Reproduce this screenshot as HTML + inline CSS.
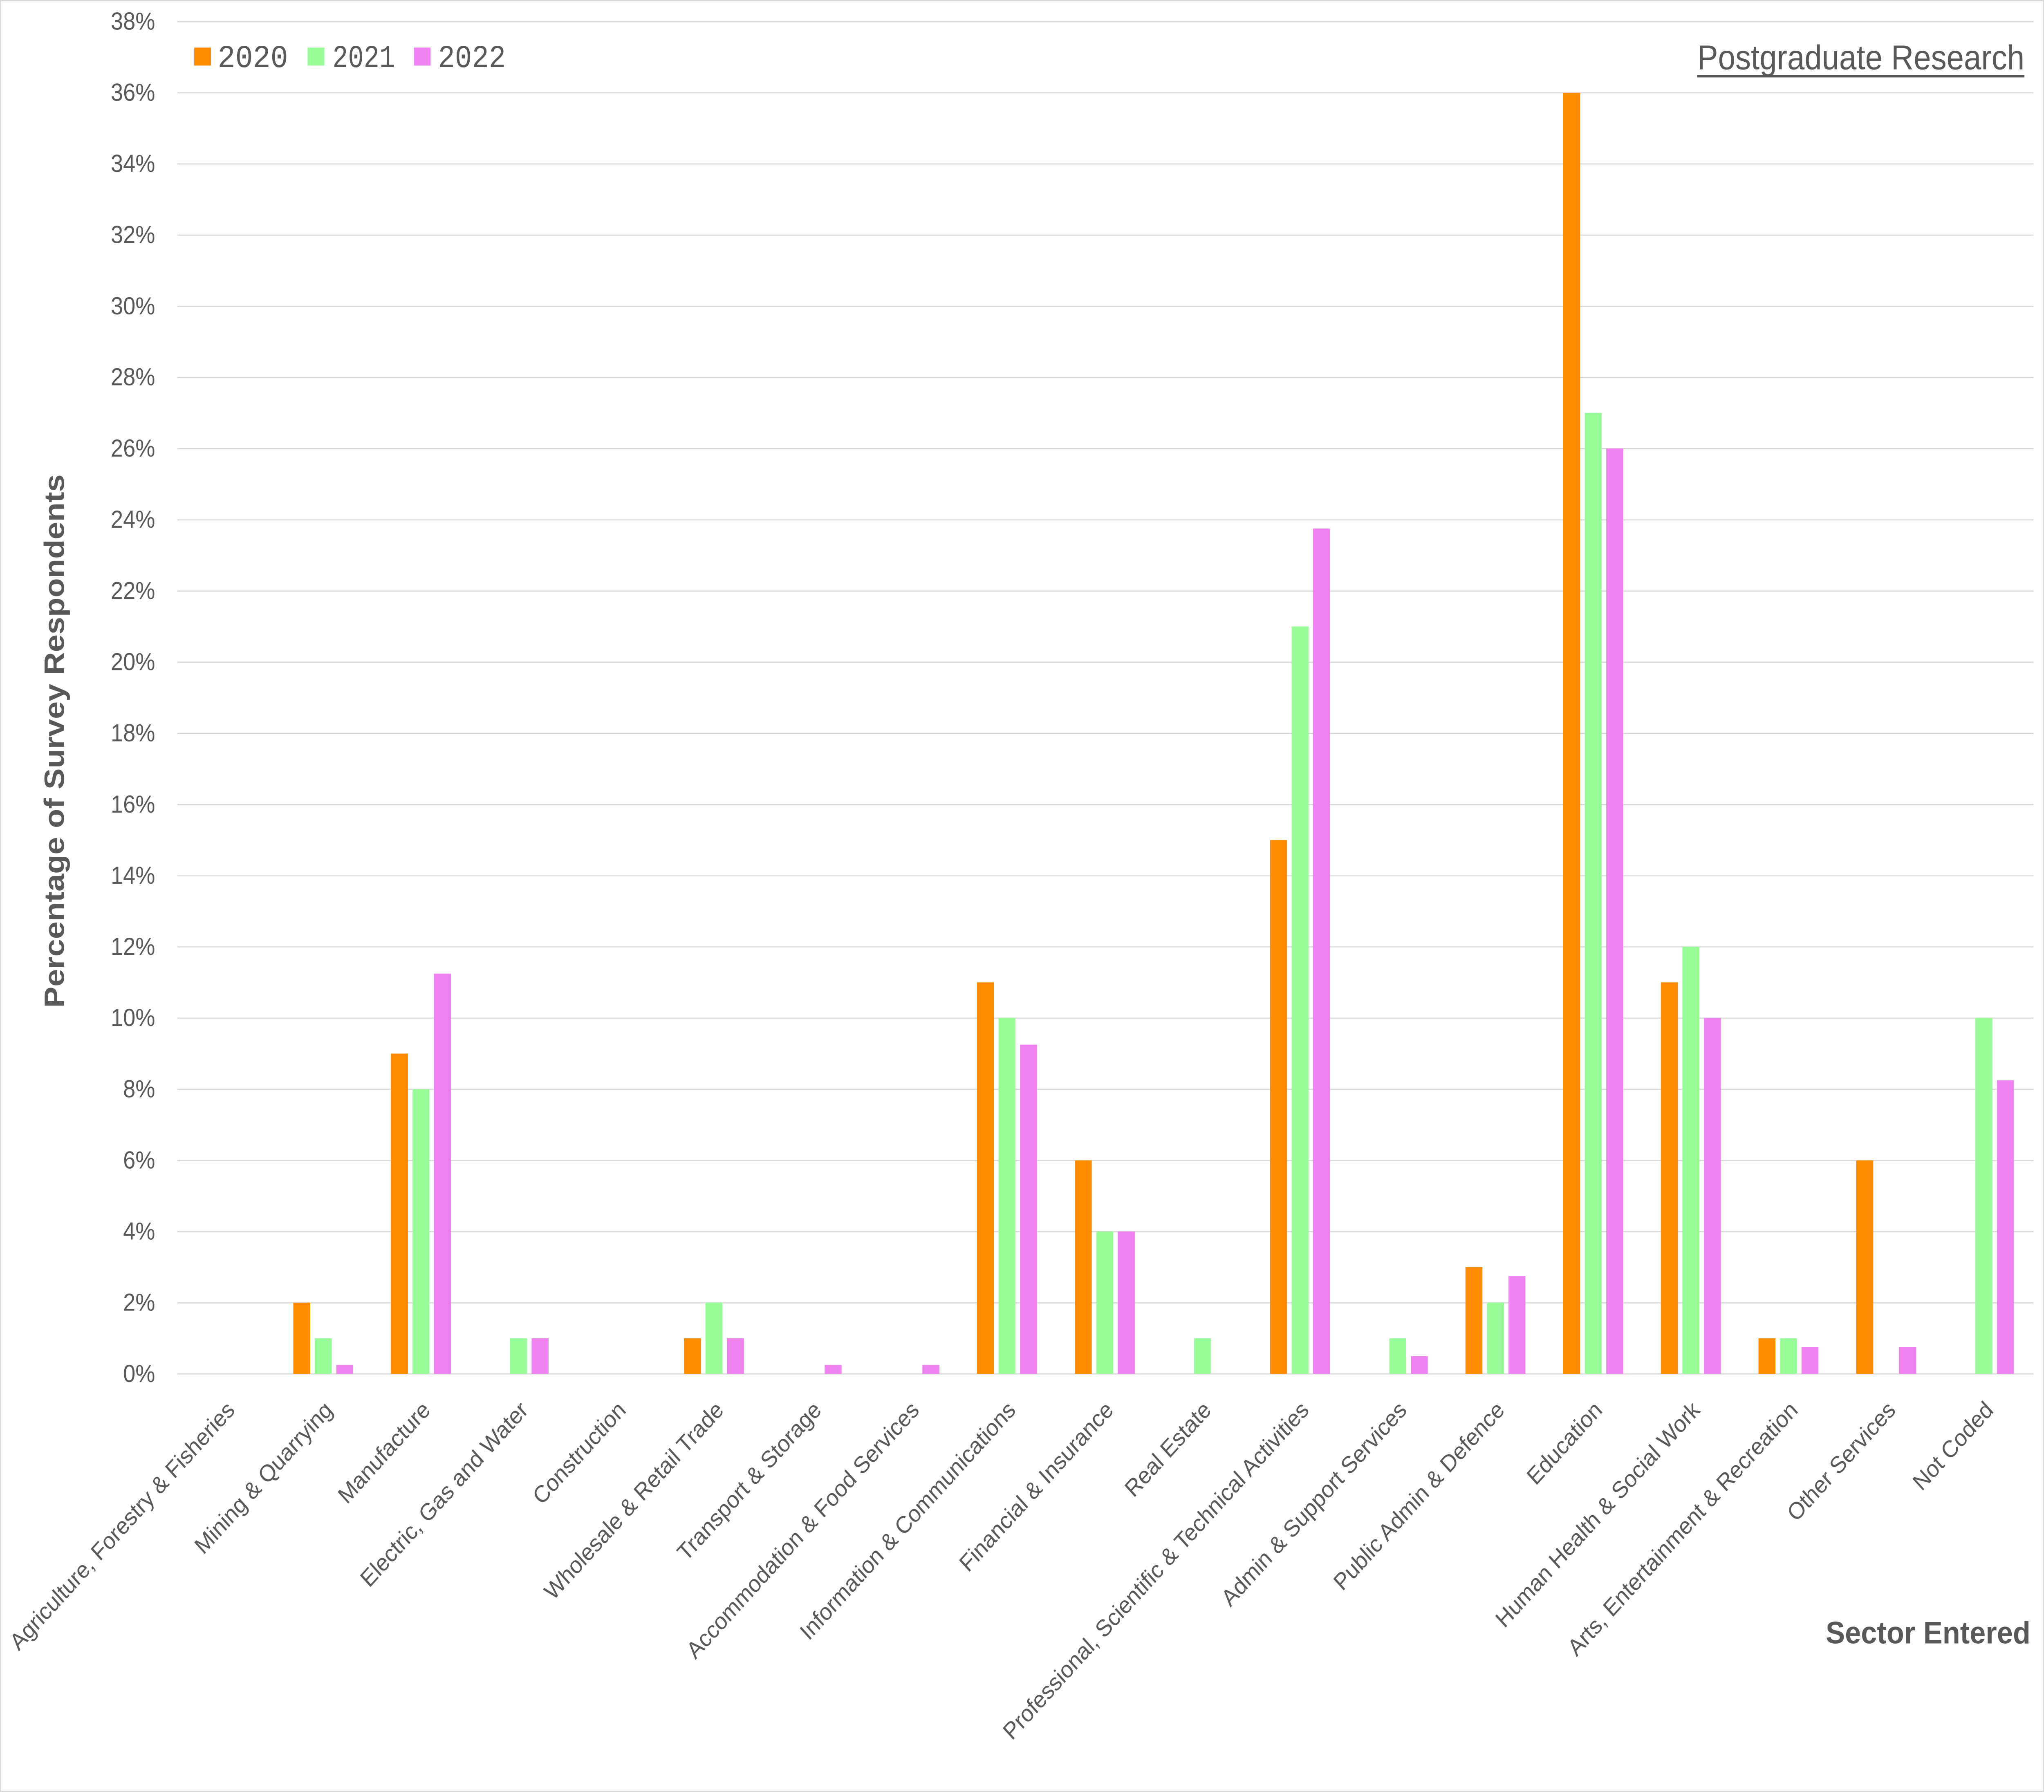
<!DOCTYPE html>
<html><head><meta charset="utf-8"><style>html,body{margin:0;padding:0;background:#fff;width:100%;height:100%;overflow:hidden}svg{display:block;position:absolute;left:0;top:0;width:100vw;height:100vh}</style></head>
<body>
<svg xmlns="http://www.w3.org/2000/svg" viewBox="0 0 1568 1243" preserveAspectRatio="none">
<rect x="0" y="0" width="1568" height="1243" fill="#fff"/>
<rect x="0.4" y="0.4" width="1567.2" height="1242.2" fill="none" stroke="#d9d9d9" stroke-width="0.9"/>
<g font-family="Liberation Sans, sans-serif" font-size="17" fill="#595959" text-anchor="end">
<text x="119" y="20.5">38%</text><text x="119" y="69.9">36%</text><text x="119" y="119.2">34%</text><text x="119" y="168.6">32%</text><text x="119" y="218">30%</text><text x="119" y="267.3">28%</text><text x="119" y="316.7">26%</text><text x="119" y="366.1">24%</text><text x="119" y="415.5">22%</text><text x="119" y="464.8">20%</text><text x="119" y="514.2">18%</text><text x="119" y="563.6">16%</text><text x="119" y="613">14%</text><text x="119" y="662.3">12%</text><text x="119" y="711.7">10%</text><text x="119" y="761.1">8%</text><text x="119" y="810.5">6%</text><text x="119" y="859.8">4%</text><text x="119" y="909.2">2%</text><text x="119" y="958.6">0%</text>
</g>
<g stroke="#d9d9d9" stroke-width="0.8">
<line x1="136" x2="1560" y1="15" y2="15"/><line x1="136" x2="1560" y1="64.4" y2="64.4"/><line x1="136" x2="1560" y1="113.7" y2="113.7"/><line x1="136" x2="1560" y1="163.1" y2="163.1"/><line x1="136" x2="1560" y1="212.5" y2="212.5"/><line x1="136" x2="1560" y1="261.8" y2="261.8"/><line x1="136" x2="1560" y1="311.2" y2="311.2"/><line x1="136" x2="1560" y1="360.6" y2="360.6"/><line x1="136" x2="1560" y1="410" y2="410"/><line x1="136" x2="1560" y1="459.3" y2="459.3"/><line x1="136" x2="1560" y1="508.7" y2="508.7"/><line x1="136" x2="1560" y1="558.1" y2="558.1"/><line x1="136" x2="1560" y1="607.5" y2="607.5"/><line x1="136" x2="1560" y1="656.8" y2="656.8"/><line x1="136" x2="1560" y1="706.2" y2="706.2"/><line x1="136" x2="1560" y1="755.6" y2="755.6"/><line x1="136" x2="1560" y1="805" y2="805"/><line x1="136" x2="1560" y1="854.3" y2="854.3"/><line x1="136" x2="1560" y1="903.7" y2="903.7"/><line x1="136" x2="1560" y1="953" y2="953"/>
</g>
<g>
<rect x="225" y="903.6" width="13" height="49.4" fill="#FF8C00"/><rect x="241.5" y="928.3" width="13" height="24.7" fill="#98FB98"/><rect x="258" y="946.8" width="13" height="6.2" fill="#EE82EE"/>
<rect x="299.9" y="730.8" width="13" height="222.2" fill="#FF8C00"/><rect x="316.4" y="755.5" width="13" height="197.5" fill="#98FB98"/><rect x="332.9" y="675.3" width="13" height="277.7" fill="#EE82EE"/>
<rect x="391.3" y="928.3" width="13" height="24.7" fill="#98FB98"/><rect x="407.8" y="928.3" width="13" height="24.7" fill="#EE82EE"/>
<rect x="524.7" y="928.3" width="13" height="24.7" fill="#FF8C00"/><rect x="541.2" y="903.6" width="13" height="49.4" fill="#98FB98"/><rect x="557.7" y="928.3" width="13" height="24.7" fill="#EE82EE"/>
<rect x="632.6" y="946.8" width="13" height="6.2" fill="#EE82EE"/>
<rect x="707.6" y="946.8" width="13" height="6.2" fill="#EE82EE"/>
<rect x="749.5" y="681.4" width="13" height="271.6" fill="#FF8C00"/><rect x="766" y="706.1" width="13" height="246.9" fill="#98FB98"/><rect x="782.5" y="724.6" width="13" height="228.4" fill="#EE82EE"/>
<rect x="824.5" y="804.9" width="13" height="148.1" fill="#FF8C00"/><rect x="841" y="854.2" width="13" height="98.8" fill="#98FB98"/><rect x="857.5" y="854.2" width="13" height="98.8" fill="#EE82EE"/>
<rect x="915.9" y="928.3" width="13" height="24.7" fill="#98FB98"/>
<rect x="974.3" y="582.7" width="13" height="370.3" fill="#FF8C00"/><rect x="990.8" y="434.5" width="13" height="518.5" fill="#98FB98"/><rect x="1007.3" y="366.6" width="13" height="586.4" fill="#EE82EE"/>
<rect x="1065.8" y="928.3" width="13" height="24.7" fill="#98FB98"/><rect x="1082.3" y="940.7" width="13" height="12.3" fill="#EE82EE"/>
<rect x="1124.2" y="878.9" width="13" height="74.1" fill="#FF8C00"/><rect x="1140.7" y="903.6" width="13" height="49.4" fill="#98FB98"/><rect x="1157.2" y="885.1" width="13" height="67.9" fill="#EE82EE"/>
<rect x="1199.2" y="64.4" width="13" height="888.6" fill="#FF8C00"/><rect x="1215.7" y="286.4" width="13" height="666.6" fill="#98FB98"/><rect x="1232.2" y="311.1" width="13" height="641.9" fill="#EE82EE"/>
<rect x="1274.1" y="681.4" width="13" height="271.6" fill="#FF8C00"/><rect x="1290.6" y="656.7" width="13" height="296.3" fill="#98FB98"/><rect x="1307.1" y="706.1" width="13" height="246.9" fill="#EE82EE"/>
<rect x="1349" y="928.3" width="13" height="24.7" fill="#FF8C00"/><rect x="1365.5" y="928.3" width="13" height="24.7" fill="#98FB98"/><rect x="1382" y="934.5" width="13" height="18.5" fill="#EE82EE"/>
<rect x="1424" y="804.9" width="13" height="148.1" fill="#FF8C00"/><rect x="1457" y="934.5" width="13" height="18.5" fill="#EE82EE"/>
<rect x="1515.4" y="706.1" width="13" height="246.9" fill="#98FB98"/><rect x="1531.9" y="749.3" width="13" height="203.7" fill="#EE82EE"/>
</g>
<g font-family="Liberation Sans, sans-serif" font-size="16.5" fill="#595959" text-anchor="end">
<text transform="translate(181,979) rotate(-45)">Agriculture, Forestry &amp; Fisheries</text>
<text transform="translate(256,979) rotate(-45)">Mining &amp; Quarrying</text>
<text transform="translate(331,979) rotate(-45)">Manufacture</text>
<text transform="translate(406,979) rotate(-45)">Electric, Gas and Water</text>
<text transform="translate(481,979) rotate(-45)">Construction</text>
<text transform="translate(556,979) rotate(-45)">Wholesale &amp; Retail Trade</text>
<text transform="translate(631,979) rotate(-45)">Transport &amp; Storage</text>
<text transform="translate(706,979) rotate(-45)">Accommodation &amp; Food Services</text>
<text transform="translate(780,979) rotate(-45)">Information &amp; Communications</text>
<text transform="translate(855,979) rotate(-45)">Financial &amp; Insurance</text>
<text transform="translate(930,979) rotate(-45)">Real Estate</text>
<text transform="translate(1005,979) rotate(-45)">Professional, Scientific &amp; Technical Activities</text>
<text transform="translate(1080,979) rotate(-45)">Admin &amp; Support Services</text>
<text transform="translate(1155,979) rotate(-45)">Public Admin &amp; Defence</text>
<text transform="translate(1230,979) rotate(-45)">Education</text>
<text transform="translate(1305,979) rotate(-45)">Human Health &amp; Social Work</text>
<text transform="translate(1380,979) rotate(-45)">Arts, Entertainment &amp; Recreation</text>
<text transform="translate(1455,979) rotate(-45)">Other Services</text>
<text transform="translate(1530,979) rotate(-45)">Not Coded</text>
</g>
<g>
<rect x="149" y="33" width="12.8" height="12.5" fill="#FF8C00"/>
<rect x="236" y="33" width="12.8" height="12.5" fill="#98FB98"/>
<rect x="317.5" y="33" width="12.8" height="12.5" fill="#EE82EE"/>
<g font-family="Liberation Mono, monospace" font-size="22" fill="#595959">
<text x="167" y="46.5" textLength="54" lengthAdjust="spacingAndGlyphs">2020</text>
<text x="255" y="46.5" textLength="48" lengthAdjust="spacingAndGlyphs">2021</text>
<text x="336" y="46.5" textLength="52" lengthAdjust="spacingAndGlyphs">2022</text>
</g>
</g>
<text x="1302" y="48" font-family="Liberation Sans, sans-serif" font-size="24" fill="#595959" textLength="251" lengthAdjust="spacingAndGlyphs">Postgraduate Research</text>
<rect x="1302" y="52" width="251" height="1.7" fill="#595959"/>
<text x="1400.6" y="1140" font-family="Liberation Sans, sans-serif" font-size="21.5" font-weight="bold" fill="#595959" textLength="157" lengthAdjust="spacingAndGlyphs">Sector Entered</text>
<text transform="translate(49,514) rotate(-90)" text-anchor="middle" font-family="Liberation Sans, sans-serif" font-size="21.5" font-weight="bold" fill="#595959" textLength="370" lengthAdjust="spacingAndGlyphs">Percentage of Survey Respondents</text>
</svg>
</body></html>
